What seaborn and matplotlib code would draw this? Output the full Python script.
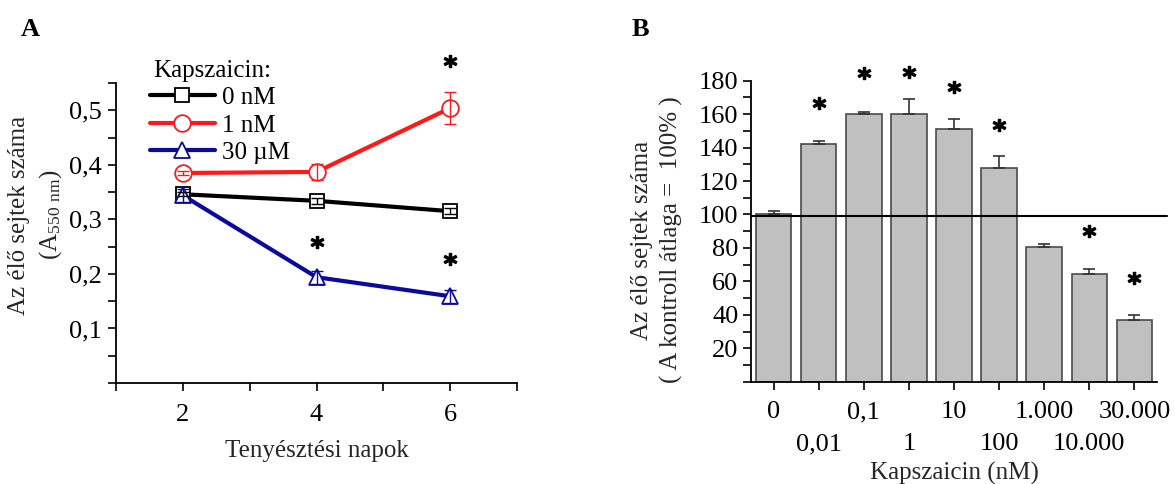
import numpy as np
import pandas as pd
import matplotlib
matplotlib.use("Agg")
import matplotlib.pyplot as plt
from matplotlib.lines import Line2D
from matplotlib.ticker import MultipleLocator, FixedLocator, FixedFormatter
import seaborn as sns

# ---------------- data ----------------
# Panel A
days = [2, 4, 6]
series_names = ["0 nM", "1 nM", "30 \u00b5M"]
vals_0nM = [0.346, 0.334, 0.315]
vals_1nM = [0.385, 0.387, 0.504]
vals_30uM = [0.344, 0.194, 0.159]
err_0nM = [0.004, 0.005, 0.006]
err_1nM = [0.004, 0.015, 0.029]
err_30uM = [0.012, 0.012, 0.012]
a_star_x = [6, 4, 6]
a_star_y = [0.590, 0.258, 0.227]
a_yticks = [0.1, 0.2, 0.3, 0.4, 0.5]
a_yticklabels = ["0,1", "0,2", "0,3", "0,4", "0,5"]
a_xticks = [2, 4, 6]
a_xticklabels = ["2", "4", "6"]

# Panel B
conc_labels = ["0", "0,01", "0,1", "1", "10", "100", "1.000", "10.000", "30.000"]
b_values = [100, 142, 160, 160, 151, 128, 80.5, 64.5, 37]
b_err = [2, 2, 1, 9, 6, 7, 2, 3, 3]
b_star_idx = [1, 2, 3, 4, 5, 7, 8]
b_star_y = [166.5, 184.5, 185, 176, 153.5, 90, 62]
b_yticks = [20, 40, 60, 80, 100, 120, 140, 160, 180]

# ---------------- style ----------------
sns.set_theme(style="ticks", rc={
    "axes.edgecolor": "black", "xtick.color": "black", "ytick.color": "black",
    "axes.linewidth": 1.3, "xtick.major.width": 1.2, "ytick.major.width": 1.2,
    "xtick.minor.width": 1.2, "ytick.minor.width": 1.2,
    "xtick.major.size": 6, "ytick.major.size": 6,
    "xtick.minor.size": 6, "ytick.minor.size": 6,
    "xtick.direction": "out", "ytick.direction": "out",
})
plt.rcParams["font.family"] = ["Liberation Serif", "DejaVu Serif"]
plt.rcParams["mathtext.default"] = "regular"
plt.rcParams["text.color"] = "black"

W, H = 1175, 484
fig = plt.figure(figsize=(W / 100, H / 100), dpi=100)

def px_axes(l, r, t, b):
    return fig.add_axes([l / W, 1 - b / H, (r - l) / W, (b - t) / H])

axA = px_axes(116, 517, 83, 383)
axB = px_axes(751, 1157, 80.7, 381.7)

TICK_FS = 19
LAB_FS = 18

# ---------------- Panel A ----------------
colors = ["black", "#ff1a1a", "#0a0a9e"]
markers = ["s", "o", "^"]
msizes = [10, 12, 12]
all_vals = [vals_0nM, vals_1nM, vals_30uM]
all_errs = [err_0nM, err_1nM, err_30uM]

for name, v, e, c, m, ms in zip(series_names, all_vals, all_errs, colors, markers, msizes):
    df = pd.DataFrame({"day": days, "val": v})
    sns.lineplot(data=df, x="day", y="val", ax=axA, color=c, lw=3,
                 marker=m, markersize=ms, markerfacecolor="white",
                 markeredgecolor=c, markeredgewidth=1.3, zorder=3)
    axA.errorbar(days, v, yerr=e, fmt="none", ecolor=c, elinewidth=1.0,
                 capsize=4, capthick=1.0, zorder=4)

axA.plot(a_star_x, a_star_y, ls="none", marker=r"$\mathbf{*}$", ms=9,
         color="black", clip_on=False, zorder=5)

axA.set_xlim(1, 7)
axA.set_ylim(0, 0.55)
axA.set_xticks(a_xticks)
axA.set_xticklabels(a_xticklabels, fontsize=TICK_FS)
axA.xaxis.set_minor_locator(MultipleLocator(1))
axA.set_yticks(a_yticks)
axA.set_yticklabels(a_yticklabels, fontsize=TICK_FS)
axA.yaxis.set_minor_locator(MultipleLocator(0.05))
axA.tick_params(axis="x", pad=9)
axA.tick_params(axis="y", pad=4)
sns.despine(ax=axA)
axA.set_xlabel("Teny\u00e9szt\u00e9si napok", fontsize=LAB_FS, labelpad=10)
axA.set_ylabel("Az \u00e9l\u0151 sejtek sz\u00e1ma\n(A$_{\\mathregular{550\\ nm}}$)",
               fontsize=LAB_FS, va="center", linespacing=1.35)
axA.yaxis.set_label_coords((36 - 116) / 401, (383 - 215) / 300)

handles = [Line2D([0], [0], color=c, lw=3, marker=m, markersize=ms,
                  markerfacecolor="white", markeredgecolor=c, markeredgewidth=1.3)
           for c, m, ms in zip(colors, markers, msizes)]
leg = fig.legend(handles, series_names, title="Kapszaicin:", loc="upper left",
                 bbox_to_anchor=(137 / W, 1 - 47 / H), frameon=False,
                 fontsize=LAB_FS, title_fontsize=LAB_FS, handlelength=2.6,
                 handletextpad=0.3, labelspacing=0.2, borderpad=0,
                 alignment="left")
leg.get_title().set_position((4, 0))

# ---------------- Panel B ----------------
dfB = pd.DataFrame({"conc": conc_labels, "val": b_values})
sns.barplot(data=dfB, x="conc", y="val", order=conc_labels, ax=axB,
            color="#c0c0c0", saturation=1, edgecolor="#4a4a4a", linewidth=1.2,
            width=0.79, zorder=2)
xpos = np.arange(len(conc_labels))
axB.errorbar(xpos, b_values, yerr=[np.zeros(len(b_err)), b_err], fmt="none",
             ecolor="#333333", elinewidth=1.2, capsize=4, capthick=1.2, zorder=3)
axB.plot(xpos[b_star_idx], b_star_y, ls="none", marker=r"$\mathbf{*}$", ms=9,
         color="black", clip_on=False, zorder=5)
axB.axhline(99, xmin=0, xmax=1.025, color="black", lw=1.5, clip_on=False, zorder=4)

axB.set_xlim(-0.5, len(conc_labels) - 0.5)
axB.set_ylim(0, 180)
axB.set_yticks(b_yticks)
axB.set_yticklabels([str(t) for t in b_yticks], fontsize=TICK_FS)
axB.yaxis.set_minor_locator(MultipleLocator(10))
# two-row category labels: even categories on major ticks, odd on minor ticks
even = xpos[::2]
odd = xpos[1::2]
axB.xaxis.set_major_locator(FixedLocator(even))
axB.xaxis.set_major_formatter(FixedFormatter([conc_labels[i] for i in even]))
axB.xaxis.set_minor_locator(FixedLocator(odd))
axB.xaxis.set_minor_formatter(FixedFormatter([conc_labels[i] for i in odd]))
axB.tick_params(axis="x", which="major", pad=8, labelsize=TICK_FS)
axB.tick_params(axis="x", which="minor", pad=31, labelsize=TICK_FS)
axB.tick_params(axis="y", pad=3)
sns.despine(ax=axB)
axB.set_xlabel("Kapszaicin (nM)", fontsize=LAB_FS, labelpad=5)
axB.set_ylabel("Az \u00e9l\u0151 sejtek sz\u00e1ma\n( A kontroll \u00e1tlaga =  100% )",
               fontsize=LAB_FS, va="center", linespacing=1.35)
axB.yaxis.set_label_coords((657 - 751) / 406, (381.7 - 240) / 301)

# panel letters
fig.text(30 / W, 1 - 29 / H, "A", fontsize=19, fontweight="bold", ha="center", va="center")
fig.text(640 / W, 1 - 29 / H, "B", fontsize=19, fontweight="bold", ha="center", va="center")

fig.savefig("out.png", dpi=100)
